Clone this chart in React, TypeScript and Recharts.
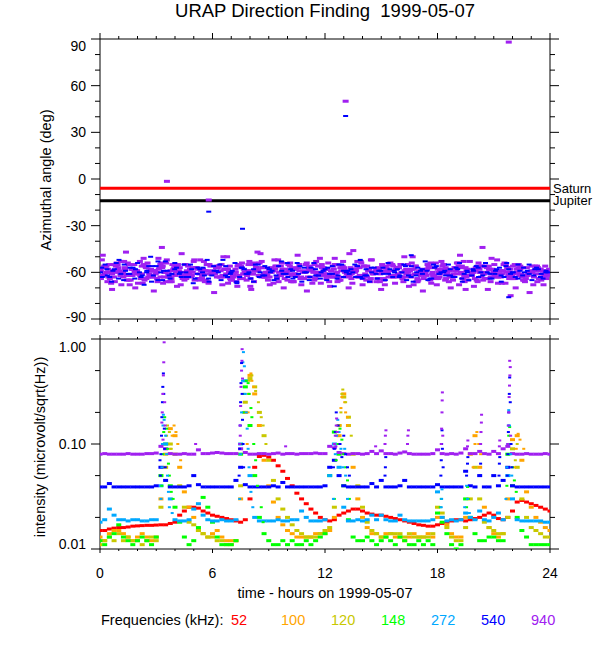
import React from 'react';
import { ScatterChart, Scatter, XAxis, YAxis, ReferenceLine, ReferenceArea } from 'recharts';

const FONT = '"Liberation Sans", Arial, Helvetica, sans-serif';

// plot box sizes (px) shared by both panels
const PLOT_W = 450;
const TOP_H = 280;
const BOT_H = 210;

const hourTicks = [0, 1, 2, 3, 4, 5, 6, 7, 8, 9, 10, 11, 12, 13, 14, 15, 16, 17, 18, 19, 20, 21, 22, 23, 24];
const angleTicks = [-90, -80, -70, -60, -50, -40, -30, -20, -10, 0, 10, 20, 30, 40, 50, 60, 70, 80, 90];
const intensityTicks = [0.01, 0.02, 0.05, 0.1, 0.2, 0.5, 1];

const freqLabels = ['52', '100', '120', '148', '272', '540', '940'];
const freqColors = ['#ff0000', '#ffa500', '#c8c800', '#00ff00', '#00a8ff', '#0000ff', '#a020f0'];

const saturnAngle = -6;
const jupiterAngle = -14;

// ---- azimuth angle cloud (deg), samples spread evenly over the day ----
const purpleRowA = [-58, -61, -55, -63, -57, -60, -54, -62, -59, -56, -64, -58, -61, -55, -60, -63, -57, -59, -62, -56, -60, -58, -64, -55, -61, -57, -59, -63, -56, -60, -62, -58, -55, -61, -59, -57, -63, -60, -56, -62, -58, -54, -61, -59, -64, -57, -60, -56, -62, -58, -61, -55, -59, -63, -57, -60, -62, -56, -58, -61, -64, -57, -59, -55, -62, -60, -58, -63, -56, -61, -59, -57, -62, -60, -55, -58, -63, -61, -56, -59, -62, -57, -60, -64, -58, -55, -61, -59, -62, -56, -60, -63, -57, -59, -61, -58, -60];
const purpleRowB = [-64, -57, -60, -66, -59, -53, -65, -58, -61, -67, -56, -63, -60, -54, -66, -59, -62, -57, -65, -61, -53, -64, -58, -66, -60, -63, -55, -61, -65, -58, -64, -60, -53, -66, -62, -57, -65, -59, -63, -54, -61, -66, -58, -64, -60, -56, -65, -62, -59, -54, -63, -66, -57, -61, -64, -59, -53, -62, -66, -60, -58, -65, -63, -56, -61, -64, -59, -54, -66, -62, -60, -65, -57, -63, -59, -66, -61, -54, -64, -58, -62, -65, -56, -60, -66, -63, -59, -54, -64, -61, -57, -65, -62, -60, -56, -63, -64];
const purpleRowC = [-52, -60, -67, -56, -62, -58, -68, -55, -61, -51, -63, -59, -66, -57, -52, -64, -60, -68, -55, -58, -65, -61, -53, -67, -59, -57, -62, -50, -64, -66, -56, -61, -69, -59, -54, -63, -58, -67, -52, -60, -65, -57, -62, -68, -55, -59, -64, -51, -61, -66, -58, -63, -53, -60, -67, -56, -62, -65, -52, -59, -61, -68, -55, -63, -57, -66, -60, -50, -64, -58, -62, -67, -54, -61, -65, -59, -57, -68, -53, -62, -60, -66, -56, -64, -51, -59, -63, -67, -58, -55, -62, -65, -60, -68, -57, -61, -59];
const purpleRowD = [-49, -66, -71, -54, -68, -47, -62, -70, -53, -65, -59, -72, -51, -67, -63, -55, -69, -48, -64, -58, -70, -52, -66, -61, -73, -56, -50, -67, -62, -69, -54, -65, -71, -57, -48, -63, -68, -52, -60, -70, -55, -66, -49, -64, -72, -58, -53, -67, -61, -69, -51, -65, -57, -70, -46, -63, -68, -56, -52, -66, -71, -59, -54, -67, -63, -50, -69, -58, -65, -72, -55, -61, -68, -53, -64, -70, -57, -49, -66, -62, -69, -54, -65, -71, -58, -52, -67, -60, -63, -70, -56, -66, -73, -59, -64, -68, -62];
const purpleRowE = [-57, -63, -59, -55, -61, -65, -58, -60, -64, -56, -62, -59, -57, -63, -61, -58, -55, -64, -60, -62, -57, -59, -65, -56, -61, -63, -58, -60, -62, -55, -64, -59, -61, -57, -63, -60, -58, -56, -62, -64, -59, -61, -57, -60, -63, -58, -62, -55, -64, -59, -61, -57, -60, -62, -58, -63, -56, -59, -61, -64, -60, -57, -62, -58, -55, -63, -59, -61, -60, -64, -57, -62, -58, -56, -61, -63, -59, -60, -57, -62, -64, -58, -61, -56, -60, -63, -59, -57, -62, -58, -61, -64, -60, -56, -59, -62, -58];
const purpleRowH = [-59, -56, -61, -58, -63, -55, -60, -62, -57, -59, -64, -56, -61, -58, -60, -55, -63, -57, -62, -59, -61, -56, -58, -64, -60, -57, -62, -55, -59, -61, -63, -58, -56, -60, -62, -57, -64, -59, -55, -61, -58, -63, -60, -56, -62, -59, -57, -61, -64, -58, -55, -60, -63, -57, -59, -62, -56, -61, -58, -60, -64, -55, -62, -59, -57, -63, -60, -56, -61, -58, -62, -59, -55, -64, -60, -57, -61, -63, -58, -56];
const purpleRowI = [-62, -58, -55, -60, -57, -65, -59, -61, -54, -63, -58, -60, -66, -56, -62, -59, -57, -64, -61, -55, -60, -63, -58, -65, -56, -61, -59, -54, -62, -60, -57, -64, -58, -61, -66, -55, -59, -63, -60, -57, -62, -56, -65, -59, -61, -58, -54, -63, -60, -57, -64, -59, -62, -55, -61, -58, -66, -60, -56, -63, -59, -57, -62, -54, -61, -65, -58, -60, -56, -63, -59, -61, -57, -64, -55, -62, -60, -58, -65, -59];
const purpleRowJ = [-56, -64, -60, -53, -62, -58, -67, -55, -61, -59, -63, -54, -66, -57, -60, -62, -52, -65, -59, -61, -56, -68, -58, -63, -55, -60, -64, -57, -53, -62, -59, -66, -61, -56, -58, -63, -54, -67, -60, -57, -62, -55, -65, -59, -61, -53, -64, -58, -60, -66, -56, -62, -57, -63, -55, -68, -59, -61, -54, -64, -58, -60, -65, -56, -62, -53, -59, -63, -57, -61, -67, -55, -60, -64, -58, -62, -56, -66, -59, -61];
const blueRowF = [-60, -55, -63, -58, -52, -65, -61, -57, -54, -62, -59, -66, -56, -60, -53, -64, -58, -61, -55, -63, -67, -57, -60, -52, -62, -59, -65, -56, -61, -54, -63, -58, -60, -66, -55, -62, -57, -59, -64, -53, -61, -58, -63, -56, -60, -65, -54, -62, -59, -57, -61, -64, -55, -60, -58, -63, -52, -62, -66, -57, -59, -61, -54, -63, -58, -60, -65, -56, -62, -59, -53, -64, -57, -61, -60, -55, -63, -58, -66, -59, -62, -56, -60, -54, -64, -61, -57, -63, -58, -60, -55, -62, -59, -65, -57, -61, -60];
const blueRowG = [-63, -58, -66, -54, -61, -59, -57, -64, -60, -68, -56, -62, -53, -65, -59, -61, -57, -63, -60, -55, -64, -58, -62, -66, -56, -60, -52, -63, -59, -67, -57, -61, -64, -55, -60, -62, -58, -65, -56, -61, -63, -59, -54, -66, -60, -57, -62, -64, -58, -61, -69, -55, -63, -59, -60, -56, -64, -62, -57, -61, -59, -65, -58, -60, -63, -55, -62, -66, -57, -61, -59, -64, -56, -60, -62, -58, -63, -54, -61, -65, -59, -57, -62, -60, -64, -58, -66, -56, -61, -63, -59, -60, -55, -62, -58, -64, -60];
const blueRowK = [-57, -62, -59, -64, -55, -61, -58, -63, -60, -56, -65, -59, -62, -54, -60, -63, -58, -61, -57, -64, -59, -55, -62, -60, -66, -57, -61, -58, -63, -56, -60, -62, -59, -54, -64, -61, -57, -63, -58, -60, -65, -56, -62, -59, -61, -55, -63, -58, -60, -64, -57, -61, -59, -62, -56, -63, -60, -58, -65, -55, -61, -59, -62, -57, -64, -60, -58, -63, -56, -61, -59, -62, -54, -60, -64, -57, -61, -58, -63, -59];
const purpleOutliers = [[3.57, -1.5], [5.8, -13.5], [13.1, 50], [21.8, 88], [20.4, -44], [3.3, -44], [21.9, -75], [19.5, -71], [13.3, -48], [8.4, -47]];
const blueOutliers = [[5.8, -21], [7.6, -32], [13.1, 40.5], [21.8, -76], [2.7, -50], [16.6, -49]];

// ---- intensity (microvolt/sqrt(Hz)), one value every 15 min ----
const i52 = [
  0.015, 0.015, 0.0155, 0.0158, 0.016, 0.016, 0.0162, 0.0165, 0.0166, 0.0167, 0.0168, 0.0168,
  0.0169, 0.017, 0.017, 0.0175, 0.018, 0.021, 0.023, 0.025, 0.025, 0.0245, 0.023, 0.022,
  0.021, 0.0205, 0.02, 0.0195, 0.019, 0.0185, 0.018, 0.019, 0.03, 0.06, 0.076, 0.078,
  0.075, 0.07, 0.062, 0.055, 0.047, 0.04, 0.034, 0.03, 0.027, 0.024, 0.022, 0.02,
  0.019, 0.0185, 0.019, 0.021, 0.022, 0.023, 0.024, 0.024, 0.023, 0.022, 0.0215, 0.021,
  0.021, 0.0205, 0.02, 0.0195, 0.019, 0.0185, 0.018, 0.0175, 0.017, 0.0168, 0.0165, 0.0165,
  0.017, 0.0175, 0.018, 0.0185, 0.019, 0.019, 0.0185, 0.019, 0.0195, 0.02, 0.021, 0.022,
  0.021, 0.0195, 0.019, 0.02, 0.023, 0.028, 0.029, 0.028, 0.027, 0.026, 0.025, 0.024, 0.023,
];
const i100 = [
  0.013, 0.012, 0.014, 0.015, 0.015, 0.014, 0.013, 0.012, 0.013, 0.014, 0.013, 0.012,
  0.013, 0.03, 0.08, 0.14, 0.12, 0.06, 0.035, 0.025, 0.02, 0.015, 0.014, 0.013,
  0.014, 0.015, 0.013, 0.012, 0.012, 0.012, 0.03, 0.2, 0.45, 0.3, 0.15, 0.07,
  0.04, 0.028, 0.02, 0.017, 0.015, 0.014, 0.013, 0.013, 0.013, 0.013, 0.014, 0.014,
  0.014, 0.015, 0.02, 0.12, 0.3, 0.15, 0.06, 0.03, 0.02, 0.016, 0.014, 0.014,
  0.013, 0.014, 0.014, 0.013, 0.013, 0.012, 0.013, 0.014, 0.013, 0.013, 0.014, 0.013,
  0.02, 0.02, 0.017, 0.014, 0.013, 0.013, 0.02, 0.08, 0.12, 0.06, 0.025, 0.016,
  0.014, 0.013, 0.014, 0.03, 0.11, 0.12, 0.07, 0.035, 0.025, 0.02, 0.018, 0.016, 0.015,
];
const i120 = [
  0.011, 0.012, 0.013, 0.012, 0.014, 0.012, 0.013, 0.012, 0.012, 0.011, 0.012, 0.013,
  0.012, 0.025, 0.06, 0.1, 0.08, 0.04, 0.025, 0.018, 0.017, 0.015, 0.014, 0.013,
  0.013, 0.012, 0.012, 0.011, 0.011, 0.012, 0.04, 0.25, 0.42, 0.35, 0.2, 0.12,
  0.07, 0.045, 0.03, 0.024, 0.02, 0.017, 0.015, 0.014, 0.013, 0.013, 0.013, 0.014,
  0.015, 0.016, 0.025, 0.15, 0.28, 0.18, 0.08, 0.04, 0.025, 0.018, 0.015, 0.014,
  0.013, 0.013, 0.014, 0.014, 0.014, 0.013, 0.014, 0.013, 0.013, 0.013, 0.013, 0.014,
  0.025, 0.022, 0.016, 0.013, 0.012, 0.012, 0.016, 0.03, 0.06, 0.03, 0.018, 0.016,
  0.015, 0.014, 0.014, 0.02, 0.09, 0.06, 0.03, 0.02, 0.016, 0.015, 0.014, 0.013, 0.013,
];
const i148 = [
  0.012, 0.011, 0.013, 0.014, 0.017, 0.013, 0.012, 0.011, 0.012, 0.013, 0.012, 0.011,
  0.013, 0.05, 0.1, 0.04, 0.025, 0.018, 0.013, 0.011, 0.012, 0.016, 0.031, 0.025,
  0.018, 0.013, 0.011, 0.011, 0.011, 0.012, 0.08, 0.35, 0.15, 0.05, 0.02, 0.014,
  0.012, 0.011, 0.011, 0.012, 0.011, 0.012, 0.011, 0.011, 0.012, 0.011, 0.012, 0.013,
  0.014, 0.05, 0.13, 0.08, 0.04, 0.019, 0.013, 0.012, 0.012, 0.013, 0.012, 0.011,
  0.012, 0.013, 0.012, 0.011, 0.013, 0.012, 0.011, 0.011, 0.012, 0.011, 0.012, 0.011,
  0.022, 0.018, 0.014, 0.011, 0.01, 0.011, 0.03, 0.02, 0.014, 0.012, 0.012, 0.013,
  0.013, 0.012, 0.012, 0.08, 0.04, 0.02, 0.015, 0.013, 0.011, 0.011, 0.011, 0.011, 0.011,
];
const i272 = [
  0.018, 0.019, 0.024, 0.021, 0.019, 0.019, 0.0185, 0.019, 0.019, 0.0185, 0.0185, 0.019,
  0.019, 0.04, 0.1, 0.03, 0.019, 0.0185, 0.0185, 0.019, 0.024, 0.027, 0.021, 0.019,
  0.0185, 0.0185, 0.019, 0.0185, 0.0185, 0.019, 0.1, 0.4, 0.05, 0.02, 0.0185, 0.0185,
  0.0185, 0.0185, 0.019, 0.0185, 0.0185, 0.019, 0.019, 0.023, 0.02, 0.0185, 0.0185, 0.0185,
  0.019, 0.05, 0.1, 0.06, 0.025, 0.0185, 0.0185, 0.019, 0.0185, 0.019, 0.021, 0.019,
  0.021, 0.019, 0.0185, 0.0185, 0.021, 0.019, 0.0185, 0.0185, 0.0185, 0.0185, 0.0185, 0.019,
  0.035, 0.02, 0.0185, 0.019, 0.0185, 0.019, 0.022, 0.02, 0.019, 0.023, 0.019, 0.0185,
  0.02, 0.022, 0.019, 0.05, 0.03, 0.019, 0.0185, 0.0185, 0.0185, 0.0185, 0.0185, 0.018, 0.018,
];
const i540 = [
  0.039, 0.039, 0.042, 0.039, 0.039, 0.039, 0.039, 0.039, 0.039, 0.039, 0.039, 0.039,
  0.04, 0.06, 0.045, 0.039, 0.039, 0.039, 0.039, 0.04, 0.05, 0.041, 0.039, 0.039,
  0.039, 0.039, 0.039, 0.039, 0.039, 0.045, 0.06, 0.041, 0.039, 0.039, 0.039, 0.039,
  0.039, 0.04, 0.039, 0.043, 0.039, 0.039, 0.039, 0.039, 0.039, 0.039, 0.039, 0.039,
  0.04, 0.06, 0.07, 0.05, 0.04, 0.039, 0.039, 0.039, 0.039, 0.039, 0.042, 0.039,
  0.045, 0.039, 0.039, 0.039, 0.04, 0.045, 0.039, 0.039, 0.039, 0.039, 0.039, 0.039,
  0.041, 0.039, 0.039, 0.039, 0.039, 0.039, 0.055, 0.04, 0.039, 0.05, 0.039, 0.039,
  0.05, 0.04, 0.045, 0.06, 0.04, 0.039, 0.039, 0.039, 0.039, 0.039, 0.039, 0.039, 0.039,
];
const i940 = [
  0.08, 0.081, 0.08, 0.08, 0.08, 0.08, 0.081, 0.08, 0.08, 0.08, 0.081, 0.081,
  0.082, 0.095, 0.09, 0.081, 0.08, 0.08, 0.081, 0.08, 0.08, 0.088, 0.081, 0.081,
  0.082, 0.083, 0.082, 0.081, 0.081, 0.081, 0.09, 0.083, 0.08, 0.08, 0.081, 0.081,
  0.08, 0.081, 0.082, 0.08, 0.081, 0.081, 0.08, 0.081, 0.081, 0.081, 0.082, 0.081,
  0.081, 0.095, 0.092, 0.083, 0.081, 0.08, 0.081, 0.081, 0.08, 0.081, 0.085, 0.081,
  0.086, 0.081, 0.081, 0.08, 0.082, 0.084, 0.081, 0.08, 0.08, 0.08, 0.08, 0.081,
  0.088, 0.081, 0.08, 0.081, 0.08, 0.082, 0.09, 0.081, 0.081, 0.085, 0.081, 0.08,
  0.085, 0.081, 0.09, 0.095, 0.081, 0.08, 0.08, 0.081, 0.08, 0.08, 0.08, 0.081, 0.08,
];

// burst samples [hour, intensity] that rise above the 15-min series
const b100 = [[3.75, 0.09], [3.85, 0.12], [3.95, 0.15], [4.05, 0.13], [4.15, 0.1], [4.3, 0.07], [7.85, 0.1], [7.9, 0.2], [7.95, 0.3], [8.05, 0.47], [8.1, 0.4], [8.2, 0.35], [12.8, 0.15], [12.85, 0.22], [12.9, 0.28], [13.05, 0.25], [13.1, 0.2], [13.2, 0.18], [19.9, 0.06], [20.0, 0.1], [20.1, 0.13], [20.2, 0.1], [20.3, 0.08], [22.1, 0.06], [22.2, 0.09], [22.3, 0.125], [22.4, 0.11], [22.6, 0.09]];
const b120 = [[3.55, 0.12], [3.6, 0.15], [3.7, 0.13], [3.8, 0.09], [7.9, 0.3], [7.95, 0.4], [8.1, 0.45], [8.3, 0.32], [8.45, 0.25], [8.6, 0.18], [8.7, 0.15], [8.85, 0.1], [12.85, 0.2], [12.9, 0.3], [12.95, 0.33], [13.1, 0.25], [13.3, 0.15], [13.4, 0.12], [22.15, 0.07], [22.25, 0.1]];
const b148 = [[3.3, 0.04], [3.35, 0.08], [3.4, 0.13], [3.45, 0.18], [3.55, 0.14], [3.6, 0.09], [3.65, 0.065], [3.7, 0.05], [3.8, 0.035], [3.9, 0.03], [7.6, 0.1], [7.65, 0.2], [7.7, 0.3], [7.8, 0.4], [7.9, 0.38], [7.95, 0.3], [8.05, 0.22], [8.1, 0.18], [8.2, 0.1], [8.3, 0.07], [8.4, 0.04], [8.6, 0.025], [8.7, 0.018], [12.5, 0.03], [12.6, 0.07], [12.7, 0.1], [12.8, 0.14], [12.9, 0.11], [13.0, 0.08], [13.1, 0.06], [13.2, 0.045], [13.3, 0.03], [18.15, 0.025], [18.2, 0.03], [19.55, 0.025], [19.6, 0.039], [19.65, 0.03], [21.7, 0.04], [21.75, 0.08], [21.8, 0.12], [21.85, 0.145], [21.9, 0.1], [22.0, 0.06], [22.1, 0.045], [22.2, 0.035]];
const b272 = [[3.25, 0.03], [3.3, 0.06], [3.33, 0.1], [3.36, 0.15], [3.38, 0.19], [3.42, 0.17], [3.5, 0.12], [3.55, 0.08], [3.6, 0.05], [3.65, 0.035], [3.7, 0.025], [3.85, 0.022], [7.45, 0.03], [7.5, 0.08], [7.55, 0.2], [7.6, 0.4], [7.62, 0.6], [7.65, 0.75], [7.7, 0.55], [7.75, 0.3], [7.8, 0.2], [7.85, 0.14], [7.9, 0.09], [7.95, 0.06], [8.05, 0.035], [8.15, 0.025], [12.45, 0.03], [12.55, 0.08], [12.62, 0.12], [12.68, 0.17], [12.75, 0.13], [12.85, 0.09], [12.95, 0.06], [13.05, 0.09], [13.1, 0.05], [13.2, 0.03], [18.2, 0.025], [18.22, 0.03], [18.24, 0.037], [19.45, 0.025], [19.55, 0.04], [19.6, 0.03], [19.7, 0.022], [21.65, 0.03], [21.7, 0.06], [21.75, 0.1], [21.78, 0.15], [21.8, 0.21], [21.84, 0.15], [21.9, 0.08], [21.96, 0.05], [22.05, 0.03]];
const b540 = [[3.2, 0.07], [3.22, 0.05], [3.25, 0.08], [3.28, 0.12], [3.3, 0.18], [3.33, 0.25], [3.35, 0.35], [3.38, 0.47], [3.4, 0.3], [3.43, 0.14], [3.45, 0.09], [3.48, 0.06], [7.42, 0.05], [7.45, 0.09], [7.48, 0.15], [7.5, 0.25], [7.52, 0.38], [7.55, 0.59], [7.58, 0.3], [7.6, 0.17], [7.63, 0.1], [7.66, 0.06], [12.45, 0.06], [12.5, 0.09], [12.55, 0.13], [12.6, 0.2], [12.7, 0.15], [12.8, 0.1], [12.9, 0.075], [13.0, 0.12], [13.1, 0.08], [13.2, 0.06], [13.3, 0.05], [15.2, 0.05], [15.22, 0.06], [15.24, 0.075], [18.18, 0.05], [18.2, 0.07], [18.22, 0.1], [18.24, 0.135], [18.26, 0.09], [18.3, 0.06], [19.55, 0.05], [19.6, 0.065], [19.62, 0.075], [20.28, 0.05], [20.3, 0.065], [21.28, 0.05], [21.3, 0.065], [21.32, 0.075], [21.72, 0.05], [21.75, 0.08], [21.78, 0.13], [21.8, 0.2], [21.83, 0.3], [21.85, 0.43], [21.88, 0.25], [21.92, 0.1], [21.96, 0.06]];
const b940 = [[3.3, 0.16], [3.32, 0.2], [3.35, 0.3], [3.36, 0.11], [3.38, 0.45], [3.4, 0.6], [3.42, 0.93], [3.45, 0.25], [3.47, 0.15], [5.1, 0.1], [7.45, 0.1], [7.47, 0.15], [7.48, 0.12], [7.5, 0.23], [7.52, 0.35], [7.55, 0.5], [7.57, 0.62], [7.58, 0.8], [7.6, 0.42], [9.9, 0.095], [12.5, 0.1], [12.55, 0.12], [12.58, 0.095], [12.6, 0.15], [12.62, 0.175], [12.65, 0.13], [14.7, 0.095], [15.2, 0.1], [15.22, 0.12], [15.25, 0.135], [16.4, 0.1], [16.42, 0.12], [16.45, 0.135], [18.2, 0.1], [18.22, 0.14], [18.24, 0.2], [18.25, 0.26], [18.26, 0.31], [18.28, 0.12], [19.6, 0.095], [19.62, 0.108], [20.3, 0.1], [20.32, 0.13], [20.34, 0.16], [20.35, 0.19], [21.3, 0.095], [21.32, 0.108], [21.75, 0.1], [21.78, 0.15], [21.8, 0.2], [21.82, 0.28], [21.84, 0.36], [21.85, 0.62], [21.86, 0.45], [21.88, 0.54], [21.9, 0.12]];

const intensitySeries = [i52, i100, i120, i148, i272, i540, i940];
const burstSeries = [[], b100, b120, b148, b272, b540, b940];

const spreadRow = (vals: number[], offset: number) =>
  vals.map((a, i) => ({ t: ((i + offset) * 24) / vals.length, a }));
const anglePairs = (arr: number[][]) => arr.map(([t, a]) => ({ t, a }));
const baseRows = (vals: number[]) => vals.map((v, i) => ({ t: (i * 24) / (vals.length - 1), v }));
const burstRows = (arr: number[][]) => arr.map(([t, v]) => ({ t, v }));

const purpleCloud = [
  ...spreadRow(purpleRowA, 0),
  ...spreadRow(purpleRowB, 0.2),
  ...spreadRow(purpleRowC, 0.4),
  ...spreadRow(purpleRowD, 0.6),
  ...spreadRow(purpleRowE, 0.8),
  ...spreadRow(purpleRowH, 0.15),
  ...spreadRow(purpleRowI, 0.45),
  ...spreadRow(purpleRowJ, 0.75),
  ...anglePairs(purpleOutliers),
];
const blueCloud = [
  ...spreadRow(blueRowF, 0.1),
  ...spreadRow(blueRowG, 0.5),
  ...spreadRow(blueRowK, 0.3),
  ...anglePairs(blueOutliers),
];

const dash = (w: number, h: number, color: string) => (p: any) =>
  <rect x={p.cx - w / 2} y={p.cy - h / 2} width={w} height={h} fill={color} />;

function HourTick(props: any) {
  const { x, y, payload, plotH, labels } = props;
  const v = payload.value;
  const major = v % 6 === 0;
  const len = Math.round(plotH * (major ? 0.02 : 0.01));
  return (
    <g>
      <line x1={x} y1={y} x2={x} y2={y + len} stroke="#000" />
      <line x1={x} y1={y - plotH} x2={x} y2={y - plotH - len} stroke="#000" />
      {labels && major && (
        <text x={x} y={y + 29} textAnchor="middle" fontSize={14} fontFamily={FONT} fill="#000">
          {v}
        </text>
      )}
    </g>
  );
}

function ValueTick(props: any) {
  const { x, y, payload, isMajor, format, shift } = props;
  const v = payload.value;
  const major = isMajor(v);
  const len = major ? 9 : 5;
  return (
    <g>
      <line x1={x} y1={y} x2={x - len} y2={y} stroke="#000" />
      <line x1={x + PLOT_W} y1={y} x2={x + PLOT_W + len} y2={y} stroke="#000" />
      {major && (
        <text x={x - 14} y={y + 5 + shift(v)} textAnchor="end" fontSize={14} fontFamily={FONT} fill="#000">
          {format(v)}
        </text>
      )}
    </g>
  );
}

export default function App() {
  return (
    <div style={{ position: 'absolute', left: 0, top: 0, width: 600, height: 650, background: '#fff' }}>
      {/* azimuth panel */}
      <div style={{ position: 'absolute', left: 0, top: 0 }}>
        <ScatterChart width={600} height={330} margin={{ top: 39, right: 50, bottom: 10, left: 99 }}>
          <XAxis
            type="number"
            dataKey="t"
            domain={[0, 24]}
            ticks={hourTicks}
            interval={0}
            height={1}
            tickSize={0}
            tickMargin={0}
            axisLine={false}
            allowDataOverflow
            tick={(p: any) => <HourTick {...p} plotH={TOP_H} labels={false} />}
          />
          <YAxis
            type="number"
            dataKey="a"
            domain={[-90, 90]}
            ticks={angleTicks}
            interval={0}
            width={1}
            tickSize={0}
            tickMargin={0}
            axisLine={false}
            allowDataOverflow
            tick={(p: any) => (
              <ValueTick
                {...p}
                isMajor={(v: number) => v % 30 === 0}
                format={(v: number) => String(v)}
                shift={(v: number) => (v === 90 ? 6.5 : v === -90 ? -2 : 0)}
              />
            )}
          />
          <ReferenceArea x1={0} x2={24} y1={-90} y2={90} fill="none" stroke="#000" strokeWidth={1} fillOpacity={0} />
          <ReferenceLine
            y={saturnAngle}
            stroke="#ff0000"
            strokeWidth={3}
            label={{ value: 'Saturn', position: 'right', offset: 3, fill: '#000', fontSize: 13, fontFamily: FONT }}
          />
          <ReferenceLine
            y={jupiterAngle}
            stroke="#000"
            strokeWidth={3}
            label={{ value: 'Jupiter', position: 'right', offset: 3, fill: '#000', fontSize: 13, fontFamily: FONT }}
          />
          <Scatter data={purpleCloud} isAnimationActive={false} shape={dash(6, 3, '#a020f0')} />
          <Scatter data={blueCloud} isAnimationActive={false} shape={dash(5, 2, '#0000ff')} />
        </ScatterChart>
      </div>

      {/* intensity panel */}
      <div style={{ position: 'absolute', left: 0, top: 330 }}>
        <ScatterChart width={600} height={320} margin={{ top: 9, right: 50, bottom: 100, left: 99 }}>
          <XAxis
            type="number"
            dataKey="t"
            domain={[0, 24]}
            ticks={hourTicks}
            interval={0}
            height={1}
            tickSize={0}
            tickMargin={0}
            axisLine={false}
            allowDataOverflow
            tick={(p: any) => <HourTick {...p} plotH={BOT_H} labels />}
          />
          <YAxis
            type="number"
            dataKey="v"
            scale="log"
            domain={[0.01, 1]}
            ticks={intensityTicks}
            interval={0}
            width={1}
            tickSize={0}
            tickMargin={0}
            axisLine={false}
            allowDataOverflow
            tick={(p: any) => (
              <ValueTick
                {...p}
                isMajor={(v: number) => v === 0.01 || v === 0.1 || v === 1}
                format={(v: number) => v.toFixed(2)}
                shift={(v: number) => (v === 1 ? 7.5 : v === 0.01 ? -5 : 0)}
              />
            )}
          />
          <ReferenceArea x1={0} x2={24} y1={0.01} y2={1} fill="none" stroke="#000" strokeWidth={1} fillOpacity={0} />
          {intensitySeries.map((vals, k) => (
            <Scatter
              key={'base' + freqLabels[k]}
              data={baseRows(vals)}
              isAnimationActive={false}
              shape={dash(5, 3, freqColors[k])}
            />
          ))}
          {burstSeries.map((arr, k) => (
            <Scatter
              key={'burst' + freqLabels[k]}
              data={burstRows(arr)}
              isAnimationActive={false}
              shape={dash(3, 2, freqColors[k])}
            />
          ))}
        </ScatterChart>
      </div>

      {/* titles and legend */}
      <svg width={600} height={650} style={{ position: 'absolute', left: 0, top: 0, pointerEvents: 'none' }}>
        <text x={325} y={17} textAnchor="middle" fontSize={18.5} fontFamily={FONT} fill="#000" style={{ whiteSpace: 'pre' }}>
          URAP Direction Finding  1999-05-07
        </text>
        <text x={51} y={180} transform="rotate(-90 51 180)" textAnchor="middle" fontSize={14.5} fontFamily={FONT} fill="#000">
          Azimuthal angle (deg)
        </text>
        <text x={45} y={447} transform="rotate(-90 45 447)" textAnchor="middle" fontSize={14.5} fontFamily={FONT} fill="#000">
          intensity (microvolt/sqrt(Hz))
        </text>
        <text x={325} y={598} textAnchor="middle" fontSize={14.5} fontFamily={FONT} fill="#000">
          time - hours on 1999-05-07
        </text>
        <text x={101} y={625} fontSize={14.5} fontFamily={FONT} fill="#000">
          Frequencies (kHz):
        </text>
        {freqLabels.map((f, k) => (
          <text key={f} x={231 + 50 * k} y={625} fontSize={14.5} fontFamily={FONT} fill={freqColors[k]}>
            {f}
          </text>
        ))}
      </svg>
    </div>
  );
}
